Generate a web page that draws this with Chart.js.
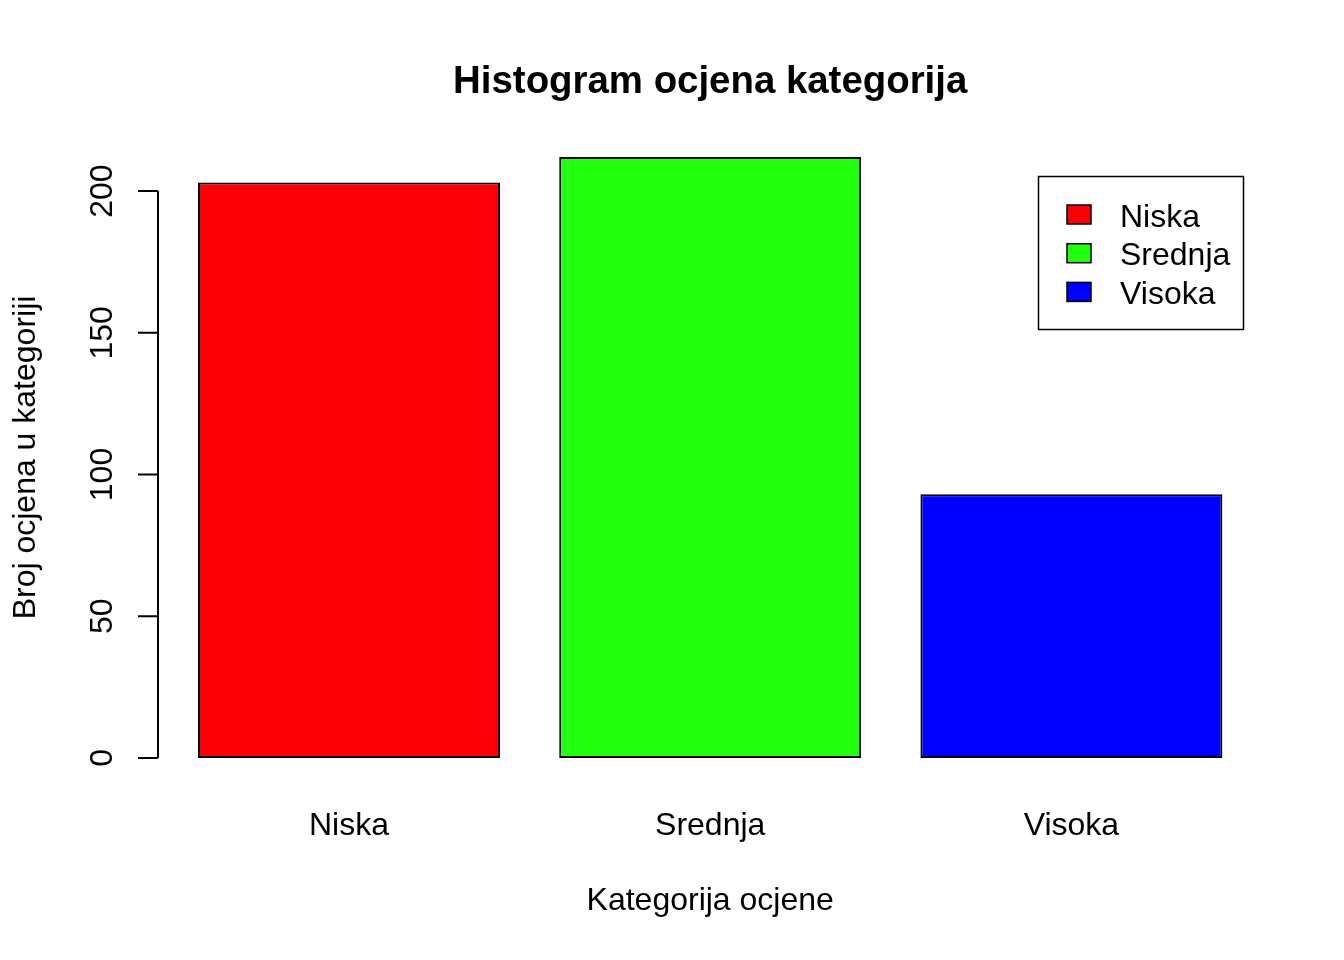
<!DOCTYPE html>
<html>
<head>
<meta charset="utf-8">
<script src="https://cdn.jsdelivr.net/npm/chart.js@4"></script>
<style>
  html, body { margin: 0; padding: 0; background: #fff; }
  canvas { display: block; }
</style>
</head>
<body>
<canvas id="histChart" width="1344" height="960"></canvas>
<script>
// podaci
const kategorije = ['Niska', 'Srednja', 'Visoka'];
const brojOcjena = [203, 212, 93];
const boje = ['#FB0007', '#22FF0F', '#0000FF'];
const yTicks = [0, 50, 100, 150, 200];

const naslov = 'Histogram ocjena kategorija';
const xNaslov = 'Kategorija ocjene';
const yNaslov = 'Broj ocjena u kategoriji';

const FONT = '"Liberation Sans", Arial, Helvetica, sans-serif';

// R style: axis range padded 4% on each side
const yMax = Math.max(...brojOcjena);
const yPad = yMax * 0.04;

// osi, naslovi i legenda u stilu base R grafike
const rStylePlugin = {
    id: 'rStyle',
    afterDraw(chart) {
        const ctx = chart.ctx;
        const area = chart.chartArea;
        const xs = chart.scales.x;
        const ys = chart.scales.y;
        ctx.save();
        ctx.fillStyle = '#000';
        ctx.strokeStyle = '#000';

        // title
        ctx.font = 'bold 38.4px ' + FONT;
        ctx.textAlign = 'center';
        ctx.textBaseline = 'alphabetic';
        ctx.fillText(naslov, (area.left + area.right) / 2, 93);

        // y axis
        const axisX = 158;
        ctx.lineWidth = 2;
        ctx.beginPath();
        ctx.moveTo(axisX, ys.getPixelForValue(yTicks[0]));
        ctx.lineTo(axisX, ys.getPixelForValue(yTicks[yTicks.length - 1]));
        yTicks.forEach(t => {
            const py = ys.getPixelForValue(t);
            ctx.moveTo(axisX, py);
            ctx.lineTo(axisX - 20, py);
        });
        ctx.stroke();

        ctx.font = '32px ' + FONT;
        yTicks.forEach(t => {
            const py = ys.getPixelForValue(t);
            ctx.save();
            ctx.translate(111.5, py);
            ctx.rotate(-Math.PI / 2);
            ctx.textAlign = 'center';
            ctx.fillText(String(t), 0, 0);
            ctx.restore();
        });

        // x labels
        ctx.textAlign = 'center';
        kategorije.forEach((k, i) => {
            ctx.fillText(k, xs.getPixelForValue(i), 835);
        });

        // axis titles
        ctx.fillText(xNaslov, (area.left + area.right) / 2, 910);
        ctx.save();
        ctx.translate(35, (area.top + area.bottom) / 2);
        ctx.rotate(-Math.PI / 2);
        ctx.fillText(yNaslov, 0, 0);
        ctx.restore();

        // legend
        ctx.lineWidth = 1.5;
        ctx.strokeRect(1038.5, 176.5, 205, 153);
        ctx.textAlign = 'left';
        kategorije.forEach((k, i) => {
            const cy = 214.5 + i * 38.7;
            ctx.fillStyle = boje[i];
            ctx.fillRect(1067, cy - 9.5, 24, 19);
            ctx.strokeStyle = '#000';
            ctx.lineWidth = 1.5;
            ctx.strokeRect(1067, cy - 9.5, 24, 19);
            ctx.fillStyle = '#000';
            ctx.fillText(k, 1120, cy + 12);
        });

        ctx.restore();
    }
};

const ctx = document.getElementById('histChart').getContext('2d');
const histChart = new Chart(ctx, {
    type: 'bar',
    data: {
        labels: kategorije,
        datasets: [{
            label: 'Broj ocjena',
            data: brojOcjena,
            backgroundColor: boje,
            borderColor: '#000',
            borderWidth: 2,
            borderSkipped: false,
            barPercentage: 0.836,
            categoryPercentage: 1
        }]
    },
    options: {
        responsive: false,
        animation: false,
        layout: {
            padding: { left: 168.4, right: 92, top: 133, bottom: 178 }
        },
        plugins: {
            legend: { display: false },
            title: { display: false },
            tooltip: { enabled: false }
        },
        scales: {
            x: { display: false, offset: true },
            y: { display: false, min: -yPad, max: yMax + yPad }
        }
    },
    plugins: [rStylePlugin]
});
</script>
</body>
</html>
